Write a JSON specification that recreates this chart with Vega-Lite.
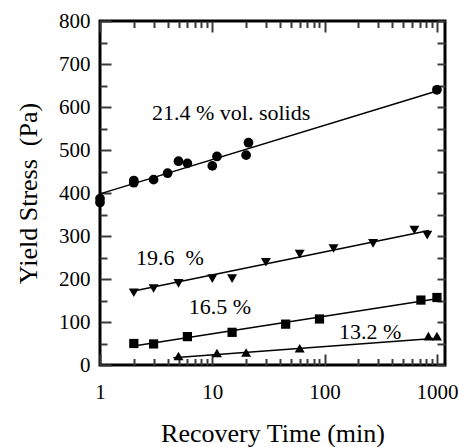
{
  "$schema": "https://vega.github.io/schema/vega-lite/v6.json",
  "width": 345,
  "height": 344,
  "autosize": {"type": "none"},
  "padding": {"left": 100, "top": 21, "right": 14, "bottom": 82},
  "background": "white",
  "config": {
    "view": {"stroke": "black", "strokeWidth": 3},
    "axis": {
      "domain": false,
      "grid": false,
      "labelFont": "Liberation Serif",
      "titleFont": "Liberation Serif",
      "labelFontSize": 21,
      "titleFontSize": 26,
      "titleFontWeight": "normal",
      "labelColor": "black",
      "titleColor": "black",
      "labelFlush": false,
      "labelOverlap": false
    },
    "text": {"font": "Liberation Serif", "fontSize": 22, "color": "black"}
  },
  "datasets": {
    "points": [
      {"series": "21.4", "t": 1, "stress": 387},
      {"series": "21.4", "t": 1, "stress": 378},
      {"series": "21.4", "t": 2, "stress": 429},
      {"series": "21.4", "t": 2, "stress": 424},
      {"series": "21.4", "t": 3, "stress": 431},
      {"series": "21.4", "t": 4, "stress": 446},
      {"series": "21.4", "t": 5, "stress": 474},
      {"series": "21.4", "t": 6, "stress": 469},
      {"series": "21.4", "t": 10, "stress": 463},
      {"series": "21.4", "t": 11, "stress": 485},
      {"series": "21.4", "t": 20, "stress": 488},
      {"series": "21.4", "t": 21, "stress": 517},
      {"series": "21.4", "t": 1000, "stress": 640},
      {"series": "19.6", "t": 2, "stress": 168},
      {"series": "19.6", "t": 3, "stress": 178},
      {"series": "19.6", "t": 5, "stress": 190},
      {"series": "19.6", "t": 10, "stress": 201},
      {"series": "19.6", "t": 15, "stress": 201},
      {"series": "19.6", "t": 30, "stress": 239},
      {"series": "19.6", "t": 60, "stress": 258},
      {"series": "19.6", "t": 120, "stress": 271},
      {"series": "19.6", "t": 270, "stress": 283},
      {"series": "19.6", "t": 630, "stress": 314},
      {"series": "19.6", "t": 820, "stress": 302},
      {"series": "16.5", "t": 2, "stress": 50},
      {"series": "16.5", "t": 3, "stress": 49},
      {"series": "16.5", "t": 6, "stress": 66},
      {"series": "16.5", "t": 15, "stress": 76},
      {"series": "16.5", "t": 45, "stress": 95},
      {"series": "16.5", "t": 90, "stress": 107},
      {"series": "16.5", "t": 720, "stress": 151},
      {"series": "16.5", "t": 1000, "stress": 157},
      {"series": "13.2", "t": 5, "stress": 21},
      {"series": "13.2", "t": 11, "stress": 28},
      {"series": "13.2", "t": 20, "stress": 29},
      {"series": "13.2", "t": 60, "stress": 39},
      {"series": "13.2", "t": 840, "stress": 67},
      {"series": "13.2", "t": 1000, "stress": 67}
    ],
    "fits": [
      {"series": "21.4", "t": 1, "stress": 398},
      {"series": "21.4", "t": 1000, "stress": 637},
      {"series": "19.6", "t": 2, "stress": 172},
      {"series": "19.6", "t": 850, "stress": 313},
      {"series": "16.5", "t": 2, "stress": 44},
      {"series": "16.5", "t": 1000, "stress": 154},
      {"series": "13.2", "t": 4.5, "stress": 17},
      {"series": "13.2", "t": 1000, "stress": 62}
    ],
    "labels": [
      {"t": 14.7, "stress": 586, "text": "21.4 % vol. solids"},
      {"t": 4.2, "stress": 249, "text": "19.6\u00a0 %"},
      {"t": 11.7, "stress": 135, "text": "16.5 %"},
      {"t": 254, "stress": 77, "text": "13.2 %"}
    ]
  },
  "resolve": {
    "scale": {"x": "independent", "y": "independent"},
    "axis": {"x": "independent", "y": "independent"}
  },
  "layer": [
    {
      "data": {"name": "fits"},
      "mark": {"type": "line", "color": "black", "strokeWidth": 1.5},
      "encoding": {
        "x": {
          "field": "t", "type": "quantitative",
          "scale": {"type": "log", "domain": [1, 1180], "nice": false},
          "axis": {
            "orient": "bottom", "values": [1, 10, 100, 1000], "format": "d",
            "tickSize": -11, "tickColor": "#3a3a3a", "tickWidth": 2, "labelPadding": 27,
            "title": "Recovery Time (min)", "titlePadding": 18
          }
        },
        "y": {
          "field": "stress", "type": "quantitative",
          "scale": {"domain": [0, 800], "nice": false},
          "axis": {
            "orient": "left", "values": [0, 100, 200, 300, 400, 500, 600, 700, 800],
            "tickSize": -11, "tickColor": "#3a3a3a", "tickWidth": 2, "labelPadding": 21,
            "title": "Yield Stress\u00a0 (Pa)", "titlePadding": 17
          }
        },
        "detail": {"field": "series"}
      }
    },
    {
      "data": {"name": "points"},
      "transform": [{"filter": "datum.series == '21.4'"}],
      "mark": {"type": "point", "shape": "circle", "filled": true, "color": "black", "opacity": 1, "size": 95},
      "encoding": {
        "x": {
          "field": "t", "type": "quantitative",
          "scale": {"type": "log", "domain": [1, 1180], "nice": false},
          "axis": {"orient": "bottom", "values": [2, 3, 4, 5, 6, 7, 8, 9, 20, 30, 40, 50, 60, 70, 80, 90, 200, 300, 400, 500, 600, 700, 800, 900], "tickSize": -6.5, "tickColor": "#3a3a3a", "tickWidth": 2, "labels": false, "title": null}
        },
        "y": {
          "field": "stress", "type": "quantitative",
          "scale": {"domain": [0, 800], "nice": false},
          "axis": {"orient": "left", "values": [50, 150, 250, 350, 450, 550, 650, 750], "tickSize": -7, "tickColor": "#3a3a3a", "tickWidth": 2, "labels": false, "title": null}
        }
      }
    },
    {
      "data": {"name": "points"},
      "transform": [{"filter": "datum.series == '19.6'"}],
      "mark": {"type": "point", "shape": "triangle-down", "filled": true, "color": "black", "opacity": 1, "size": 100},
      "encoding": {
        "x": {
          "field": "t", "type": "quantitative",
          "scale": {"type": "log", "domain": [1, 1180], "nice": false},
          "axis": {"orient": "top", "values": [1, 10, 100, 1000], "tickSize": -11, "tickColor": "#3a3a3a", "tickWidth": 2, "labels": false, "title": null}
        },
        "y": {
          "field": "stress", "type": "quantitative",
          "scale": {"domain": [0, 800], "nice": false},
          "axis": {"orient": "right", "values": [0, 50, 100, 150, 200, 250, 300, 350, 400, 450, 500, 550, 600, 650, 700, 750, 800], "tickSize": -8, "tickColor": "#3a3a3a", "tickWidth": 2, "labels": false, "title": null}
        }
      }
    },
    {
      "data": {"name": "points"},
      "transform": [{"filter": "datum.series == '16.5'"}],
      "mark": {"type": "point", "shape": "square", "filled": true, "color": "black", "opacity": 1, "size": 85},
      "encoding": {
        "x": {
          "field": "t", "type": "quantitative",
          "scale": {"type": "log", "domain": [1, 1180], "nice": false},
          "axis": {"orient": "top", "values": [2, 3, 4, 5, 6, 7, 8, 9, 20, 30, 40, 50, 60, 70, 80, 90, 200, 300, 400, 500, 600, 700, 800, 900], "tickSize": -6.5, "tickColor": "#3a3a3a", "tickWidth": 2, "labels": false, "title": null}
        },
        "y": {"field": "stress", "type": "quantitative", "scale": {"domain": [0, 800], "nice": false}, "axis": null}
      }
    },
    {
      "data": {"name": "points"},
      "transform": [{"filter": "datum.series == '13.2'"}],
      "mark": {"type": "point", "shape": "triangle-up", "filled": true, "color": "black", "opacity": 1, "size": 100},
      "encoding": {
        "x": {"field": "t", "type": "quantitative", "scale": {"type": "log", "domain": [1, 1180], "nice": false}, "axis": null},
        "y": {"field": "stress", "type": "quantitative", "scale": {"domain": [0, 800], "nice": false}, "axis": null}
      }
    },
    {
      "data": {"name": "labels"},
      "mark": {"type": "text", "align": "center", "baseline": "middle"},
      "encoding": {
        "x": {"field": "t", "type": "quantitative", "scale": {"type": "log", "domain": [1, 1180], "nice": false}, "axis": null},
        "y": {"field": "stress", "type": "quantitative", "scale": {"domain": [0, 800], "nice": false}, "axis": null},
        "text": {"field": "text"}
      }
    }
  ]
}
